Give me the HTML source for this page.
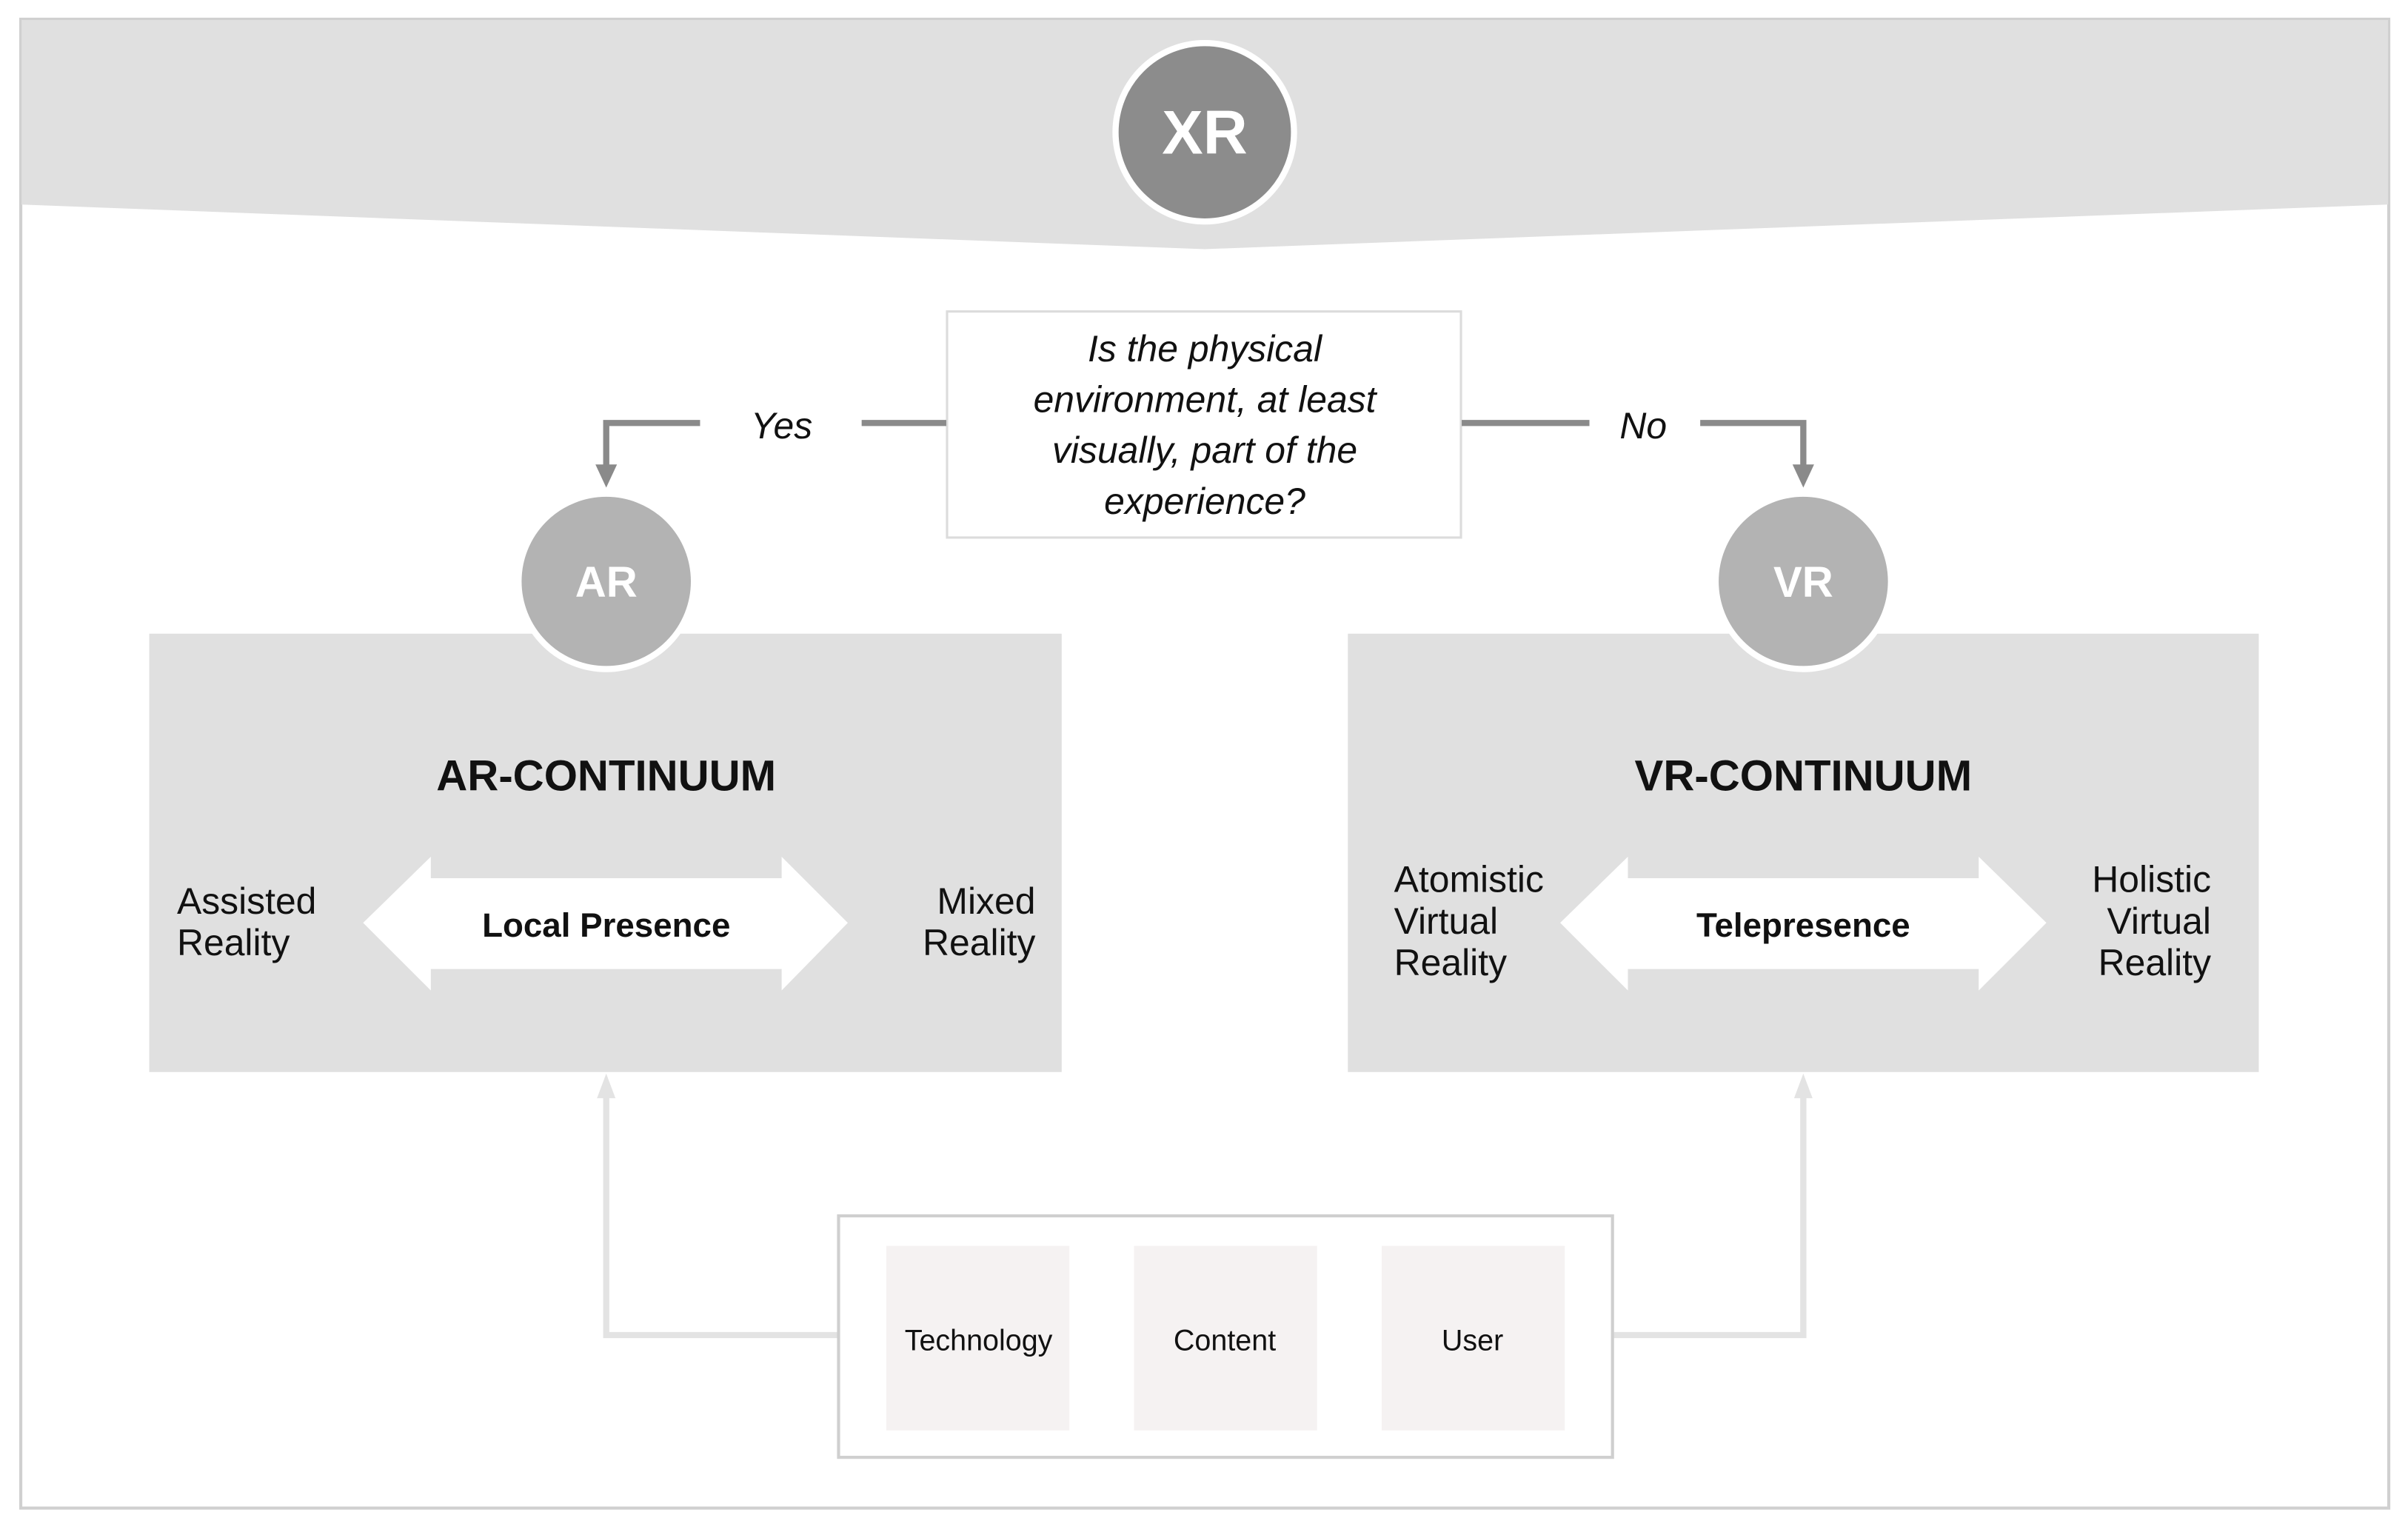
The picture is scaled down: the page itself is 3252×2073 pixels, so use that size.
<!DOCTYPE html>
<html><head><meta charset="utf-8"><style>html,body{margin:0;padding:0;background:#fff}svg{display:block}</style></head>
<body>
<svg width="3252" height="2073" viewBox="0 0 1565 998" preserveAspectRatio="none" xmlns="http://www.w3.org/2000/svg" font-family="Liberation Sans, Arial, sans-serif">
<rect x="0" y="0" width="1565" height="998" fill="#fff"/>
<rect x="13.5" y="12.5" width="1539" height="968" fill="#fff" stroke="#d0d0d0" stroke-width="2"/>
<polygon points="14,13 1552,13 1552,133 783,162 14,133" fill="#e0e0e0"/>
<circle cx="783" cy="86" r="58" fill="#8c8c8c" stroke="#fff" stroke-width="4"/>
<text x="783" y="100" text-anchor="middle" font-size="40" font-weight="bold" fill="#fff">XR</text>
<!-- question -->
<rect x="615.5" y="202.5" width="334" height="147" fill="#fff" stroke="#dcdcdc" stroke-width="1.5"/>
<g font-size="24" font-style="italic" text-anchor="middle" fill="#111">
<text x="783" y="235">Is the physical</text>
<text x="783" y="268">environment, at least</text>
<text x="783" y="301">visually, part of the</text>
<text x="783" y="334">experience?</text>
</g>
<g stroke="#8a8a8a" stroke-width="4" fill="none">
<line x1="615" y1="275" x2="560" y2="275"/>
<polyline points="455,275 394,275 394,304"/>
<line x1="950" y1="275" x2="1033" y2="275"/>
<polyline points="1105,275 1172,275 1172,304"/>
</g>
<polygon points="387,302 401,302 394,317" fill="#8a8a8a"/>
<polygon points="1165,302 1179,302 1172,317" fill="#8a8a8a"/>
<text x="508" y="285" text-anchor="middle" font-size="24" font-style="italic" fill="#111">Yes</text>
<text x="1068" y="285" text-anchor="middle" font-size="24" font-style="italic" fill="#111">No</text>
<!-- boxes -->
<rect x="97" y="412" width="593" height="285" fill="#e0e0e0"/>
<rect x="876" y="412" width="592" height="285" fill="#e0e0e0"/>
<circle cx="394" cy="378" r="57" fill="#b3b3b3" stroke="#fff" stroke-width="4"/>
<text x="394" y="388" text-anchor="middle" font-size="28" font-weight="bold" fill="#fff">AR</text>
<circle cx="1172" cy="378" r="57" fill="#b3b3b3" stroke="#fff" stroke-width="4"/>
<text x="1172" y="388" text-anchor="middle" font-size="28" font-weight="bold" fill="#fff">VR</text>
<text x="394" y="514" text-anchor="middle" font-size="28" font-weight="bold" fill="#111">AR-CONTINUUM</text>
<text x="1172" y="514" text-anchor="middle" font-size="28" font-weight="bold" fill="#111">VR-CONTINUUM</text>
<polygon points="236,600 280,557 280,571 508,571 508,557 551,600 508,644 508,630 280,630 280,644" fill="#fff"/>
<polygon points="1014,600 1058,557 1058,571 1286,571 1286,557 1330,600 1286,644 1286,630 1058,630 1058,644" fill="#fff"/>
<text x="394" y="609" text-anchor="middle" font-size="22" font-weight="bold" fill="#111">Local Presence</text>
<text x="1172" y="609" text-anchor="middle" font-size="22" font-weight="bold" fill="#111">Telepresence</text>
<g font-size="24" fill="#111">
<text x="115" y="594">Assisted</text><text x="115" y="621">Reality</text>
<text x="673" y="594" text-anchor="end">Mixed</text><text x="673" y="621" text-anchor="end">Reality</text>
<text x="906" y="580">Atomistic</text><text x="906" y="607">Virtual</text><text x="906" y="634">Reality</text>
<text x="1437" y="580" text-anchor="end">Holistic</text><text x="1437" y="607" text-anchor="end">Virtual</text><text x="1437" y="634" text-anchor="end">Reality</text>
</g>
<!-- bottom connectors -->
<g stroke="#e3e3e3" stroke-width="4" fill="none">
<polyline points="545,868 394,868 394,712"/>
<polyline points="1048,868 1172,868 1172,712"/>
</g>
<polygon points="388,714 400,714 394,698" fill="#e3e3e3"/>
<polygon points="1166,714 1178,714 1172,698" fill="#e3e3e3"/>
<rect x="545" y="790.5" width="503" height="157" fill="#fff" stroke="#cfcfcf" stroke-width="2"/>
<rect x="576" y="810" width="119" height="120" fill="#f5f2f2"/>
<rect x="737" y="810" width="119" height="120" fill="#f5f2f2"/>
<rect x="898" y="810" width="119" height="120" fill="#f5f2f2"/>
<g font-size="19" text-anchor="middle" fill="#111">
<text x="636" y="878">Technology</text>
<text x="796" y="878">Content</text>
<text x="957" y="878">User</text>
</g>
</svg>
</body></html>
